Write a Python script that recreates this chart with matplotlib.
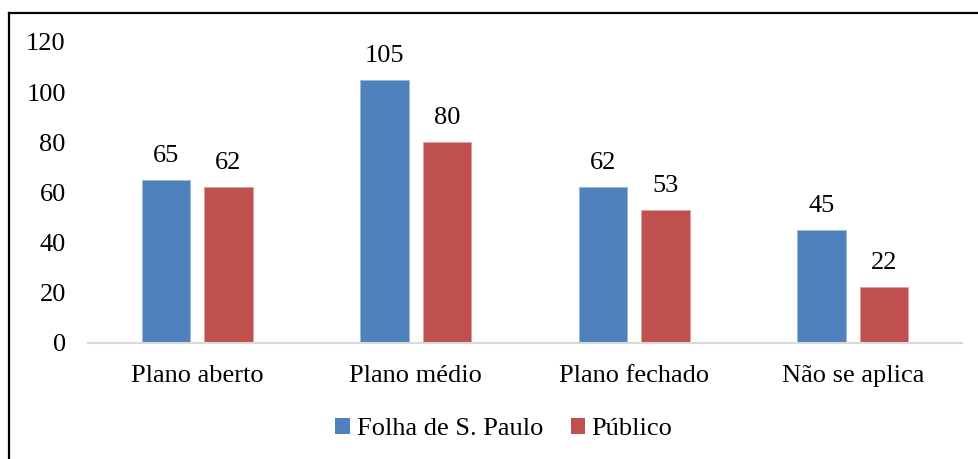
import matplotlib
matplotlib.use("Agg")
import matplotlib.pyplot as plt
import numpy as np
from matplotlib.lines import Line2D
from matplotlib.patches import Patch

categories = ["Plano aberto", "Plano médio", "Plano fechado", "Não se aplica"]
series_names = ["Folha de S. Paulo", "Público"]
folha = [65, 105, 62, 45]
publico = [62, 80, 53, 22]
y_ticks = [0, 20, 40, 60, 80, 100, 120]

blue = "#4F81BD"
red = "#C0504D"

plt.rcParams["font.family"] = ["Liberation Serif", "DejaVu Serif"]
fs = 19

fig = plt.figure(figsize=(9.79, 4.59), dpi=100)
ax = fig.add_axes([88 / 979, 1 - 342.5 / 459, 874 / 979, 300.5 / 459])

x = np.arange(len(categories))
w = 0.224
off = 0.143
b1 = ax.bar(x - off, folha, w, color=blue, edgecolor="#9DB7DA", linewidth=0.6, zorder=2)
b2 = ax.bar(x + off, publico, w, color=red, edgecolor="#DCA0A0", linewidth=0.6, zorder=2)

for bars, vals in ((b1, folha), (b2, publico)):
    for rect, v in zip(bars, vals):
        ax.annotate(str(v), (rect.get_x() + rect.get_width() / 2, v),
                    xytext=(0, 13), textcoords="offset points",
                    ha="center", va="baseline", fontsize=fs)

ax.set_xlim(-0.5, len(categories) - 0.5)
ax.set_ylim(0, 120)
ax.set_yticks(y_ticks)
ax.set_xticks(x)
ax.set_xticklabels(categories)
ax.tick_params(axis="both", length=0, labelsize=fs)
ax.tick_params(axis="y", pad=16)
ax.tick_params(axis="x", pad=16)
for s in ("top", "right", "left"):
    ax.spines[s].set_visible(False)
ax.spines["bottom"].set_color("#D9D9D9")
ax.spines["bottom"].set_linewidth(1.5)

handles = [Patch(facecolor=blue, edgecolor="none"), Patch(facecolor=red, edgecolor="none")]
fig.legend(handles, series_names, loc="center", bbox_to_anchor=(504 / 979, 1 - 429 / 459),
           ncol=2, frameon=False, fontsize=fs, handlelength=0.55, handleheight=0.55,
           handletextpad=0.25, columnspacing=1.05)

# outer frame (top and left edges)
fig.add_artist(Line2D([9 / 979, 1.0], [1 - 13 / 459, 1 - 13 / 459], color="black", linewidth=1.6,
                      transform=fig.transFigure))
fig.add_artist(Line2D([9 / 979, 9 / 979], [0.0, 1 - 13 / 459], color="black", linewidth=1.6,
                      transform=fig.transFigure))

fig.savefig("out.png", dpi=100)
